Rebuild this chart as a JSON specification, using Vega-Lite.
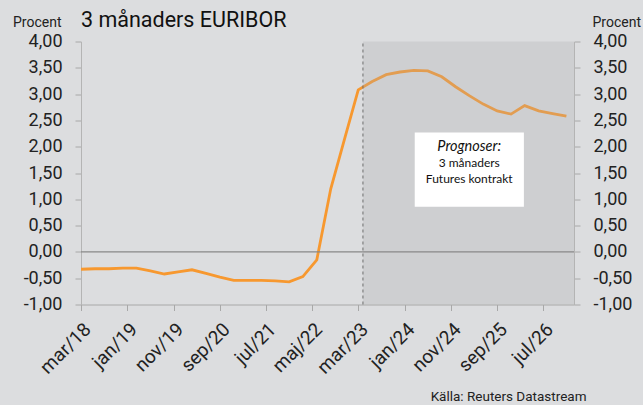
{
  "$schema": "https://vega.github.io/schema/vega-lite/v6.json",
  "autosize": "none",
  "width": 493,
  "height": 263,
  "padding": {"left": 81, "top": 41.5, "right": 69, "bottom": 100},
  "background": "#DCDDDF",
  "title": {"text": "3 månaders EURIBOR", "anchor": "start", "frame": "group", "font": "Roboto", "fontSize": 21.5, "fontWeight": "normal", "color": "#111111", "baseline": "alphabetic", "offset": 0, "dy": 33},
  "datasets": {
    "euribor": [
      {"date": "2018/03/01", "value": -0.33},
      {"date": "2018/06/01", "value": -0.32},
      {"date": "2018/09/01", "value": -0.32},
      {"date": "2018/12/01", "value": -0.31},
      {"date": "2019/03/01", "value": -0.31},
      {"date": "2019/06/01", "value": -0.36},
      {"date": "2019/09/01", "value": -0.42},
      {"date": "2019/12/01", "value": -0.38},
      {"date": "2020/03/01", "value": -0.34},
      {"date": "2020/06/01", "value": -0.41},
      {"date": "2020/09/01", "value": -0.48},
      {"date": "2020/12/01", "value": -0.54},
      {"date": "2021/03/01", "value": -0.54},
      {"date": "2021/06/01", "value": -0.54},
      {"date": "2021/09/01", "value": -0.55},
      {"date": "2021/12/01", "value": -0.57},
      {"date": "2022/03/01", "value": -0.47},
      {"date": "2022/06/01", "value": -0.15},
      {"date": "2022/09/01", "value": 1.2},
      {"date": "2022/12/01", "value": 2.15},
      {"date": "2023/03/01", "value": 3.08},
      {"date": "2023/06/01", "value": 3.24},
      {"date": "2023/09/01", "value": 3.37},
      {"date": "2023/12/01", "value": 3.42},
      {"date": "2024/03/01", "value": 3.45},
      {"date": "2024/06/01", "value": 3.44},
      {"date": "2024/09/01", "value": 3.33},
      {"date": "2024/12/01", "value": 3.14},
      {"date": "2025/03/01", "value": 2.97},
      {"date": "2025/06/01", "value": 2.81},
      {"date": "2025/09/01", "value": 2.68},
      {"date": "2025/12/01", "value": 2.62},
      {"date": "2026/03/01", "value": 2.78},
      {"date": "2026/06/01", "value": 2.68},
      {"date": "2026/09/01", "value": 2.63},
      {"date": "2026/12/01", "value": 2.58}
    ],
    "forecast": [
      {"start": "2023/04/01", "end": "2027/01/20"}
    ]
  },
  "layer": [
    {
      "layer": [
        {
          "data": {"name": "euribor"},
          "mark": {"type": "line", "color": "#F7982F", "strokeWidth": 2.8, "interpolate": "linear"},
          "encoding": {
            "x": {
              "field": "date", "type": "temporal", "title": "Källa: Reuters Datastream",
              "scale": {"domain": [{"year": 2018, "month": 3, "date": 1}, {"year": 2027, "month": 1, "date": 20}]},
              "axis": {
                "values": [
                  {"year": 2018, "month": 3, "date": 1}, {"year": 2019, "month": 1, "date": 1},
                  {"year": 2019, "month": 11, "date": 1}, {"year": 2020, "month": 9, "date": 1},
                  {"year": 2021, "month": 7, "date": 1}, {"year": 2022, "month": 5, "date": 1},
                  {"year": 2023, "month": 3, "date": 1}, {"year": 2024, "month": 1, "date": 1},
                  {"year": 2024, "month": 11, "date": 1}, {"year": 2025, "month": 9, "date": 1},
                  {"year": 2026, "month": 7, "date": 1}
                ],
                "labelExpr": "['jan','feb','mar','apr','maj','jun','jul','aug','sep','okt','nov','dec'][month(datum.value)] + '/' + timeFormat(datum.value, '%y')",
                "labelAngle": -45, "labelAlign": "right", "labelBaseline": "top",
                "labelFont": "Roboto", "labelFontSize": 19, "labelColor": "#222222", "labelPadding": 9,
                "domainColor": "#A8A8A8", "tickColor": "#A8A8A8", "tickSize": 6, "grid": false,
                "labelOverlap": false, "labelFlush": false,
                "titleFont": "Roboto", "titleFontSize": 13.5, "titleFontWeight": "normal", "titleColor": "#222222",
                "titleAlign": "right", "titleBaseline": "alphabetic", "titleAnchor": null, "titleX": 505, "titleY": 96
              }
            },
            "y": {"field": "value", "type": "quantitative", "scale": {"domain": [-1, 4], "nice": false, "zero": false}, "axis": null}
          }
        },
        {
          "data": {"name": "forecast"},
          "mark": {"type": "rect", "color": "#A9AAAC", "opacity": 0.27},
          "encoding": {
            "x": {"field": "start", "type": "temporal", "title": "Källa: Reuters Datastream"},
            "x2": {"field": "end"},
            "y": {"datum": -1, "type": "quantitative", "axis": null},
            "y2": {"datum": 4}
          }
        },
        {
          "data": {"name": "forecast"},
          "mark": {"type": "rect", "color": "#FFFFFF"},
          "encoding": {
            "x": {"datum": {"year": 2024, "month": 3, "date": 7}, "type": "temporal", "title": "Källa: Reuters Datastream"},
            "x2": {"datum": {"year": 2026, "month": 2, "date": 24}},
            "y": {"datum": 2.27, "type": "quantitative", "axis": null},
            "y2": {"datum": 0.86}
          }
        },
        {
          "data": {"name": "forecast"},
          "mark": {"type": "text", "text": "Prognoser:", "font": "Lato", "fontSize": 14.5, "fontStyle": "italic", "color": "#111111", "align": "center", "baseline": "alphabetic"},
          "encoding": {
            "x": {"datum": {"year": 2025, "month": 3, "date": 1}, "type": "temporal", "title": "Källa: Reuters Datastream"},
            "y": {"datum": 1.91, "type": "quantitative", "axis": null}
          }
        },
        {
          "data": {"name": "forecast"},
          "mark": {"type": "text", "text": ["3 månaders", "Futures kontrakt"], "lineHeight": 16.5, "font": "Lato", "fontSize": 12, "color": "#111111", "align": "center", "baseline": "alphabetic"},
          "encoding": {
            "x": {"datum": {"year": 2025, "month": 3, "date": 1}, "type": "temporal", "title": "Källa: Reuters Datastream"},
            "y": {"datum": 1.62, "type": "quantitative", "axis": null}
          }
        }
      ]
    },
    {
      "data": {"name": "forecast"},
      "mark": {"type": "rule", "color": "#888888", "strokeWidth": 1.2},
      "encoding": {
        "y": {
          "datum": 0, "type": "quantitative",
          "scale": {"domain": [-1, 4], "nice": false, "zero": false},
          "axis": {
            "title": "Procent",
            "orient": "left", "values": [-1, -0.5, 0, 0.5, 1, 1.5, 2, 2.5, 3, 3.5, 4],
            "labelExpr": "replace(replace(format(datum.value, '.2f'), '.', ','), '\u2212', '-')",
            "labelFont": "Roboto", "labelFontSize": 18, "labelColor": "#222222", "labelPadding": 13,
            "domainColor": "#B4B4B4", "tickColor": "#A8A8A8", "tickSize": 6, "grid": false,
            "titleFont": "Roboto", "titleFontSize": 14, "titleFontWeight": "normal", "titleColor": "#222222",
            "titleAngle": 0, "titleAlign": "right", "titleBaseline": "alphabetic", "titleAnchor": null, "titleX": -20, "titleY": -15.5
          }
        }
      }
    },
    {
      "data": {"name": "forecast"},
      "mark": {"type": "rule", "color": "#6E6E6E", "strokeWidth": 1, "strokeDash": [3, 3]},
      "encoding": {
        "x": {"field": "start", "type": "temporal", "title": "Källa: Reuters Datastream"},
        "y": {
          "datum": -1, "type": "quantitative",
          "scale": {"domain": [-1, 4], "nice": false, "zero": false},
          "axis": {
            "title": "Procent",
            "orient": "right", "values": [-1, -0.5, 0, 0.5, 1, 1.5, 2, 2.5, 3, 3.5, 4],
            "labelExpr": "replace(replace(format(datum.value, '.2f'), '.', ','), '\u2212', '-')",
            "labelFont": "Roboto", "labelFontSize": 18, "labelColor": "#222222", "labelPadding": 13,
            "domainColor": "#B4B4B4", "tickColor": "#A8A8A8", "tickSize": 6, "grid": false,
            "titleFont": "Roboto", "titleFontSize": 14, "titleFontWeight": "normal", "titleColor": "#222222",
            "titleAngle": 0, "titleAlign": "left", "titleBaseline": "alphabetic", "titleAnchor": null, "titleX": 18, "titleY": -15.5
          }
        },
        "y2": {"datum": 4}
      }
    }
  ],
  "resolve": {"scale": {"y": "independent"}},
  "config": {"view": {"stroke": null}}
}
